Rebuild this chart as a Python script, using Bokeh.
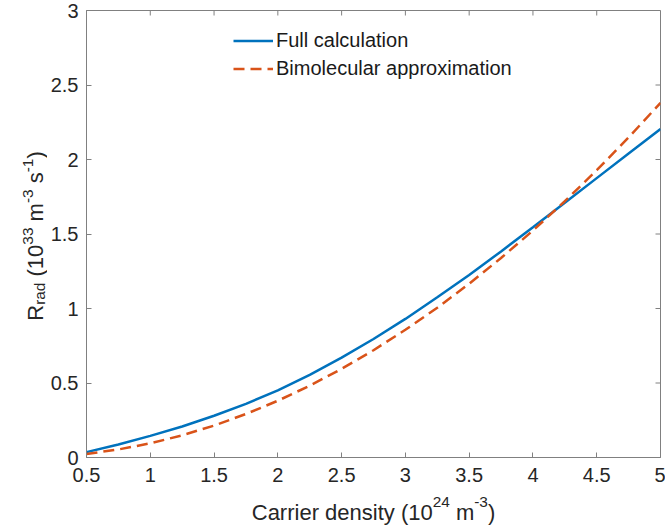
from math import pi
from bokeh.plotting import figure
from bokeh.models import Range1d, FixedTicker, Legend, LegendItem, ColumnDataSource
from bokeh.layouts import row, column
from bokeh.core.properties import value
from bokeh.embed import file_html
from bokeh.resources import INLINE

# ---------------- data ----------------
density = [0.5, 0.75, 1.0, 1.25, 1.5, 1.75, 2.0, 2.25, 2.5, 2.75,
           3.0, 3.25, 3.5, 3.75, 4.0, 4.25, 4.5, 4.75, 5.0]
full_calc = [0.036, 0.087, 0.145, 0.208, 0.280, 0.360, 0.450, 0.555, 0.670, 0.795,
             0.930, 1.075, 1.225, 1.383, 1.545, 1.710, 1.875, 2.040, 2.205]
bimolecular = [0.024, 0.054, 0.095, 0.149, 0.214, 0.292, 0.381, 0.482, 0.595, 0.720,
               0.857, 1.005, 1.166, 1.339, 1.523, 1.720, 1.928, 2.148, 2.380]
series_names = ["Full calculation", "Bimolecular approximation"]

x_ticks = [0.5, 1, 1.5, 2, 2.5, 3, 3.5, 4, 4.5, 5]
x_tick_labels = ["0.5", "1", "1.5", "2", "2.5", "3", "3.5", "4", "4.5", "5"]
y_ticks = [0, 0.5, 1, 1.5, 2, 2.5, 3]
y_tick_labels = ["0", "0.5", "1", "1.5", "2", "2.5", "3"]

# ---------------- layout ----------------
W, H = 665, 529
YLAB_W = 47          # strip on the left holding the y title
XLAB_H = 38          # strip at the bottom holding the x title
MW, MH = W - YLAB_W, H - XLAB_H
L, R, T, B = 86 - YLAB_W, 5, 10, 72 - XLAB_H
FONT = "Liberation Sans"
TXT = "#262626"
AX = "#808080"
BLUE = "#0072BD"
ORANGE = "#D95319"
X0, X1, Y0, Y1 = 0.5, 5.0, 0.0, 3.0

p = figure(width=MW, height=MH, x_range=Range1d(X0, X1), y_range=Range1d(Y0, Y1),
           output_backend="svg", toolbar_location=None, title=None,
           min_border_left=L, min_border_right=R, min_border_top=T, min_border_bottom=B,
           background_fill_color="white", border_fill_color="white")
p.outline_line_color = AX
p.outline_line_width = 1
p.xgrid.visible = False
p.ygrid.visible = False


def style_axis(ax, ticks, labels, standoff):
    ax.ticker = FixedTicker(ticks=ticks)
    ax.major_label_overrides = {t: l for t, l in zip(ticks, labels)}
    ax.major_tick_in = 5
    ax.major_tick_out = 0
    ax.minor_tick_in = 0
    ax.minor_tick_out = 0
    ax.axis_line_color = AX
    ax.axis_line_width = 1
    ax.major_tick_line_color = AX
    ax.major_tick_line_width = 1
    ax.major_label_text_font = FONT
    ax.major_label_text_color = TXT
    ax.major_label_text_font_size = "20px"
    ax.major_label_standoff = standoff


style_axis(p.xaxis[0], x_ticks, x_tick_labels, 10)
style_axis(p.yaxis[0], y_ticks, y_tick_labels, 8)

# inward tick marks on the top and right edges of the box
p.ray(x=x_ticks, y=[Y1] * len(x_ticks), length=5, length_units="screen",
      angle=-pi / 2, line_color=AX, line_width=1)
p.ray(x=[X1] * len(y_ticks), y=y_ticks, length=5, length_units="screen",
      angle=pi, line_color=AX, line_width=1)

r1 = p.line(density, full_calc, line_color=BLUE, line_width=2.5)
r2 = p.line(density, bimolecular, line_color=ORANGE, line_width=2.5, line_dash="11 6")

legend = Legend(items=[LegendItem(label=series_names[0], renderers=[r1]),
                       LegendItem(label=series_names[1], renderers=[r2])],
                location=(147, 377), padding=0, margin=0, spacing=5,
                glyph_width=40, glyph_height=23, label_height=23, label_standoff=3,
                label_text_font=FONT, label_text_font_size="20px", label_text_color="#1a1a1a",
                border_line_alpha=0, background_fill_alpha=0)
p.add_layout(legend)

# ---------------- axis titles built from pieces (super/subscripts) ----------------
W_EM = {' ': 0.278, '(': 0.333, ')': 0.333, '-': 0.333, 'C': 0.722, 'R': 0.722,
        'a': 0.556, 'd': 0.556, 'e': 0.556, 'i': 0.222, 'm': 0.833, 'n': 0.556,
        'r': 0.333, 's': 0.5, 't': 0.278, 'y': 0.5}
for dgt in "0123456789":
    W_EM[dgt] = 0.556
MAIN, SMALL = 22.0, 15.4


def chain(pieces):
    pos, out = 0.0, []
    for text, kind, gap in pieces:
        size = MAIN if kind == "n" else SMALL
        pos += gap * W_EM[' '] * MAIN
        out.append((text, kind, pos, size))
        pos += sum(W_EM[c] for c in text) * size
    return out, pos


xlab = [("Carrier density (10", "n", 0), ("24", "sup", 0), ("m", "n", 1),
        ("-3", "sup", 0), (")", "n", 0)]
ylab = [("R", "n", 0), ("rad", "sub", 0), ("(10", "n", 1), ("33", "sup", 0),
        ("m", "n", 1), ("-3", "sup", 0), ("s", "n", 1), ("-1", "sup", 0), (")", "n", 0)]

FRAME_TOP, FRAME_BOT = T, MH - B
frame_cx = 86 + (W - 86 - R) / 2.0
frame_cy = (FRAME_TOP + FRAME_BOT) / 2.0 + 2


def strip(width, height, xr, yr):
    f = figure(width=width, height=height, x_range=Range1d(*xr), y_range=Range1d(*yr),
               output_backend="svg", toolbar_location=None, min_border=0, title=None,
               min_border_left=0, min_border_right=0, min_border_top=0, min_border_bottom=0,
               x_axis_type=None, y_axis_type=None,
               background_fill_color="white", border_fill_color="white")
    f.outline_line_color = None
    return f


# x title strip
fx = strip(W, XLAB_H, (0, W), (H, MH))
pieces, total = chain(xlab)
x_start = frame_cx - total / 2.0
base = 511.5
src = ColumnDataSource(dict(
    x=[x_start + pos for _, _, pos, _ in pieces],
    y=[base - (10 if kind == "sup" else 0) for _, kind, _, _ in pieces],
    t=[text for text, _, _, _ in pieces],
    s=[f"{size}px" for _, _, _, size in pieces]))
fx.text(x="x", y="y", text="t", text_font_size="s", source=src, text_font=value(FONT),
        text_color=TXT, text_align="left", text_baseline="alphabetic")

# y title strip (its frame is aligned with the main frame by the row layout)
fy = strip(YLAB_W, MH, (0, YLAB_W), (FRAME_BOT, FRAME_TOP))
pieces, total = chain(ylab)
y_start = frame_cy + total / 2.0
basex = 35
src = ColumnDataSource(dict(
    x=[basex + (-8 if kind == "sup" else (4 if kind == "sub" else 0)) for _, kind, _, _ in pieces],
    y=[y_start - pos for _, _, pos, _ in pieces],
    t=[text for text, _, _, _ in pieces],
    s=[f"{size}px" for _, _, _, size in pieces]))
fy.text(x="x", y="y", text="t", text_font_size="s", source=src, text_font=value(FONT),
        text_color=TXT, text_align="left", text_baseline="alphabetic", angle=pi / 2)

page = column(row(fy, p, spacing=0), fx, spacing=0)
open("out.html", "w").write(file_html(page, INLINE))
